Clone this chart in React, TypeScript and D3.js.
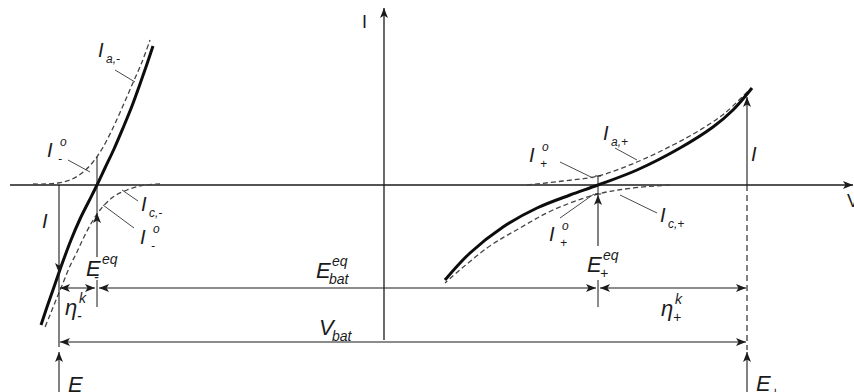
import React from "react";
import * as d3 from "d3";

// Potential (V) and current (I) in arbitrary units; origin at the axis crossing.
type Pt = [number, number];

// Negative electrode: total current and its anodic / cathodic partial currents
const negTotalV = [-3.43, -3.37, -3.3, -3.22, -3.13, -3.04, -2.95, -2.87, -2.79, -2.7, -2.61, -2.52, -2.44, -2.37, -2.31];
const negTotalI = [-1.4, -1.22, -1.02, -0.79, -0.55, -0.34, -0.16, 0, 0.17, 0.36, 0.57, 0.79, 1.01, 1.21, 1.39];
const negAnodicV = [-3.51, -3.39, -3.26, -3.14, -3.02, -2.91, -2.82, -2.72, -2.62, -2.52, -2.42, -2.34];
const negAnodicI = [0.01, 0.01, 0.02, 0.05, 0.12, 0.23, 0.36, 0.55, 0.77, 1.0, 1.23, 1.45];
const negCathodicV = [-2.24, -2.39, -2.57, -2.71, -2.84, -2.92, -3.0, -3.07, -3.14, -3.21, -3.28, -3.34, -3.39];
const negCathodicI = [0.01, 0, -0.05, -0.12, -0.25, -0.37, -0.52, -0.67, -0.81, -0.98, -1.15, -1.3, -1.42];

// Positive electrode
const posTotalV = [0.61, 0.86, 1.19, 1.53, 1.86, 2.14, 2.53, 2.96, 3.29, 3.49, 3.68];
const posTotalI = [-0.95, -0.68, -0.42, -0.23, -0.1, 0, 0.15, 0.37, 0.58, 0.75, 0.97];
const posAnodicV = [1.43, 1.79, 2.14, 2.53, 2.89, 3.16, 3.41, 3.66];
const posAnodicI = [0, 0.04, 0.09, 0.23, 0.4, 0.55, 0.72, 0.96];
const posCathodicV = [2.86, 2.49, 2.14, 1.69, 1.36, 1.03, 0.61];
const posCathodicI = [0, -0.03, -0.09, -0.25, -0.43, -0.63, -0.98];

// Characteristic potentials and currents
const E_NEG_EQ = -2.87;
const E_POS_EQ = 2.14;
const E_NEG = -3.25;
const E_POS = 3.63;
const I0_NEG = 0.28;
const I0_POS = 0.09;
const I_CELL = 0.88;

// Levels of the dimension lines and axis extent
const DIM_EQ = -1.03;
const DIM_VBAT = -1.57;
const AXIS_TOP = 1.77;
const AXIS_BOTTOM = -1.55;
const V_MIN = -3.74;
const V_MAX = 4.69;

const W = 854;
const H = 392;

const x = d3.scaleLinear().domain([-3.84, 4.7]).range([0, W]);
const y = d3.scaleLinear().domain([1.85, -2.07]).range([0, H]);

const zip = (vs: number[], is: number[]): Pt[] => vs.map((v, k) => [v, is[k]]);

const line = d3
  .line<Pt>()
  .x((d) => x(d[0]))
  .y((d) => y(d[1]))
  .curve(d3.curveCatmullRom.alpha(0.5));

const FONT = "'Liberation Sans', Arial, sans-serif";
const INK = "#1b1b1b";
const THIN = "#4a4a4a";

type SymProps = {
  px: number;
  py: number;
  base: string;
  sup?: string;
  sub?: string;
  size?: number;
  w?: number;
  supDx?: number;
  subDx?: number;
  italic?: boolean;
};

// A symbol with optional superscript and subscript
function Sym({ px, py, base, sup, sub, size = 20, w = 7, supDx, subDx, italic = true }: SymProps) {
  const small = Math.round(size * 0.62);
  return (
    <g fontFamily={FONT} fill={INK} fontStyle={italic ? "italic" : "normal"}>
      <text x={px} y={py} fontSize={size}>
        {base}
      </text>
      {sup && (
        <text x={px + (supDx ?? w)} y={py - size * 0.55} fontSize={small}>
          {sup}
        </text>
      )}
      {sub && (
        <text x={px + (subDx ?? w)} y={py + size * 0.28} fontSize={small}>
          {sub}
        </text>
      )}
    </g>
  );
}

function Lead({ a, b }: { a: Pt; b: Pt }) {
  return <line x1={a[0]} y1={a[1]} x2={b[0]} y2={b[1]} stroke={THIN} strokeWidth={1} />;
}

export default function App() {
  const xNeq = x(E_NEG_EQ);
  const xPeq = x(E_POS_EQ);
  const xN = x(E_NEG);
  const xP = x(E_POS);
  const y0 = y(0);
  const yEq = y(DIM_EQ);
  const yVb = y(DIM_VBAT);

  const dashStyle = { fill: "none", stroke: "#444", strokeWidth: 1.3, strokeDasharray: "5 3" };
  const solidStyle = { fill: "none", stroke: "#0d0d0d", strokeWidth: 3 };
  const arrowLine = { stroke: INK, strokeWidth: 1.1 };

  return (
    <svg
      width={W}
      height={H}
      style={{ position: "absolute", left: 0, top: 0, background: "#fff" }}
    >
      <defs>
        <marker
          id="ah"
          viewBox="0 0 10 8"
          refX={10}
          refY={4}
          markerWidth={10}
          markerHeight={8}
          markerUnits="userSpaceOnUse"
          orient="auto-start-reverse"
        >
          <path d="M0,0 L10,4 L0,8 L2.5,4 z" fill={INK} />
        </marker>
      </defs>

      {/* axes */}
      <line x1={x(V_MIN)} y1={y0} x2={x(V_MAX)} y2={y0} {...arrowLine} strokeWidth={1.3} markerEnd="url(#ah)" />
      <line x1={x(0)} y1={y(AXIS_BOTTOM)} x2={x(0)} y2={y(AXIS_TOP)} {...arrowLine} strokeWidth={1.3} markerEnd="url(#ah)" />
      <text x={x(0) - 22} y={28} fontFamily={FONT} fontSize={18} fill={INK}>
        I
      </text>
      <text x={W - 7} y={207} fontFamily={FONT} fontSize={18} fill={INK}>
        V
      </text>

      {/* partial currents */}
      <path d={line(zip(negAnodicV, negAnodicI)) ?? ""} {...dashStyle} />
      <path d={line(zip(negCathodicV, negCathodicI)) ?? ""} {...dashStyle} />
      <path d={line(zip(posAnodicV, posAnodicI)) ?? ""} {...dashStyle} />
      <path d={line(zip(posCathodicV, posCathodicI)) ?? ""} {...dashStyle} />

      {/* total currents */}
      <path d={line(zip(negTotalV, negTotalI)) ?? ""} {...solidStyle} />
      <path d={line(zip(posTotalV, posTotalI)) ?? ""} {...solidStyle} />

      {/* negative electrode markers */}
      <line x1={xNeq} y1={y(I0_NEG)} x2={xNeq} y2={y0} stroke={INK} strokeWidth={1} />
      <line x1={xNeq} y1={y(-I0_NEG) + 44} x2={xNeq} y2={y(-I0_NEG)} {...arrowLine} markerEnd="url(#ah)" />
      <line x1={xNeq} y1={y0} x2={xNeq} y2={y(-I0_NEG)} stroke={INK} strokeWidth={1} />
      <line x1={xN} y1={y0} x2={xN} y2={y(-I_CELL)} {...arrowLine} markerEnd="url(#ah)" />
      <line x1={xN} y1={y(-I_CELL)} x2={xN} y2={yVb + 5} {...arrowLine} />
      <line x1={xN} y1={H} x2={xN} y2={yVb + 10} {...arrowLine} markerEnd="url(#ah)" />

      {/* positive electrode markers */}
      <line x1={xPeq} y1={y(I0_POS)} x2={xPeq} y2={y(-I0_POS)} stroke={INK} strokeWidth={1} />
      <line x1={xPeq - 3} y1={y(I0_POS)} x2={xPeq + 3} y2={y(I0_POS)} stroke={INK} strokeWidth={1} />
      <line x1={xPeq - 3} y1={y(-I0_POS)} x2={xPeq + 3} y2={y(-I0_POS)} stroke={INK} strokeWidth={1} />
      <line x1={xPeq} y1={y(-I0_POS) + 52} x2={xPeq} y2={y(-I0_POS) + 1} {...arrowLine} markerEnd="url(#ah)" />
      <line x1={xP} y1={y0} x2={xP} y2={y(I_CELL)} {...arrowLine} markerEnd="url(#ah)" />
      <line x1={xP} y1={y0} x2={xP} y2={yVb + 8} stroke={INK} strokeWidth={1.1} strokeDasharray="6 4" />
      <line x1={xP} y1={H} x2={xP} y2={yVb + 10} {...arrowLine} markerEnd="url(#ah)" />

      {/* dimension lines */}
      <line x1={xNeq} y1={yEq - 8} x2={xNeq} y2={yEq + 19} stroke={INK} strokeWidth={1} />
      <line x1={xPeq} y1={yEq - 8} x2={xPeq} y2={yEq + 19} stroke={INK} strokeWidth={1} />
      <line x1={xN + 1} y1={yEq} x2={xNeq - 2} y2={yEq} {...arrowLine} markerStart="url(#ah)" markerEnd="url(#ah)" />
      <line x1={xNeq + 2} y1={yEq} x2={xPeq - 2} y2={yEq} {...arrowLine} markerStart="url(#ah)" markerEnd="url(#ah)" />
      <line x1={xPeq + 2} y1={yEq} x2={xP - 1} y2={yEq} {...arrowLine} markerStart="url(#ah)" markerEnd="url(#ah)" />
      <line x1={xN + 1} y1={yVb} x2={xP - 1} y2={yVb} {...arrowLine} markerStart="url(#ah)" markerEnd="url(#ah)" />

      {/* leader lines */}
      <Lead a={[115, 70]} b={[135, 82]} />
      <Lead a={[68, 160]} b={[90, 172]} />
      <Lead a={[122, 190]} b={[138, 201]} />
      <Lead a={[103, 205]} b={[134, 228]} />
      <Lead a={[615, 148]} b={[637, 160]} />
      <Lead a={[560, 162]} b={[593, 178]} />
      <Lead a={[620, 195]} b={[657, 213]} />
      <Lead a={[560, 218]} b={[594, 194]} />

      {/* labels, negative side */}
      <Sym px={98} py={57} base="I" sub="a,-" w={8} />
      <Sym px={47} py={157} base="I" sup="o" sub="-" supDx={13} subDx={11} />
      <Sym px={141} py={211} base="I" sub="c,-" w={8} />
      <Sym px={140} py={244} base="I" sup="o" sub="-" supDx={13} subDx={11} />
      <Sym px={42} py={228} base="I" />
      <Sym px={86} py={276} base="E" sup="eq" sub="-" size={22} supDx={16} subDx={8} />
      <Sym px={65} py={315} base="η" sup="k" sub="-" size={22} supDx={14} subDx={12} />
      <Sym px={68} py={392} base="E" sub="-" size={22} subDx={15} />

      {/* labels, cell */}
      <Sym px={316} py={278} base="E" sup="eq" sub="bat" size={22} supDx={16} subDx={13} />
      <Sym px={319} py={335} base="V" sub="bat" size={22} subDx={13} />

      {/* labels, positive side */}
      <Sym px={603} py={140} base="I" sub="a,+" w={8} />
      <Sym px={529} py={162} base="I" sup="o" sub="+" supDx={13} subDx={11} />
      <Sym px={660} py={222} base="I" sub="c,+" w={8} />
      <Sym px={549} py={241} base="I" sup="o" sub="+" supDx={13} subDx={11} />
      <Sym px={587} py={272} base="E" sup="eq" sub="+" size={22} supDx={16} subDx={13} />
      <Sym px={661} py={316} base="η" sup="k" sub="+" size={22} supDx={14} subDx={12} />
      <Sym px={751} py={161} base="I" />
      <Sym px={756} py={391} base="E" sub="+" size={22} subDx={15} />
    </svg>
  );
}
